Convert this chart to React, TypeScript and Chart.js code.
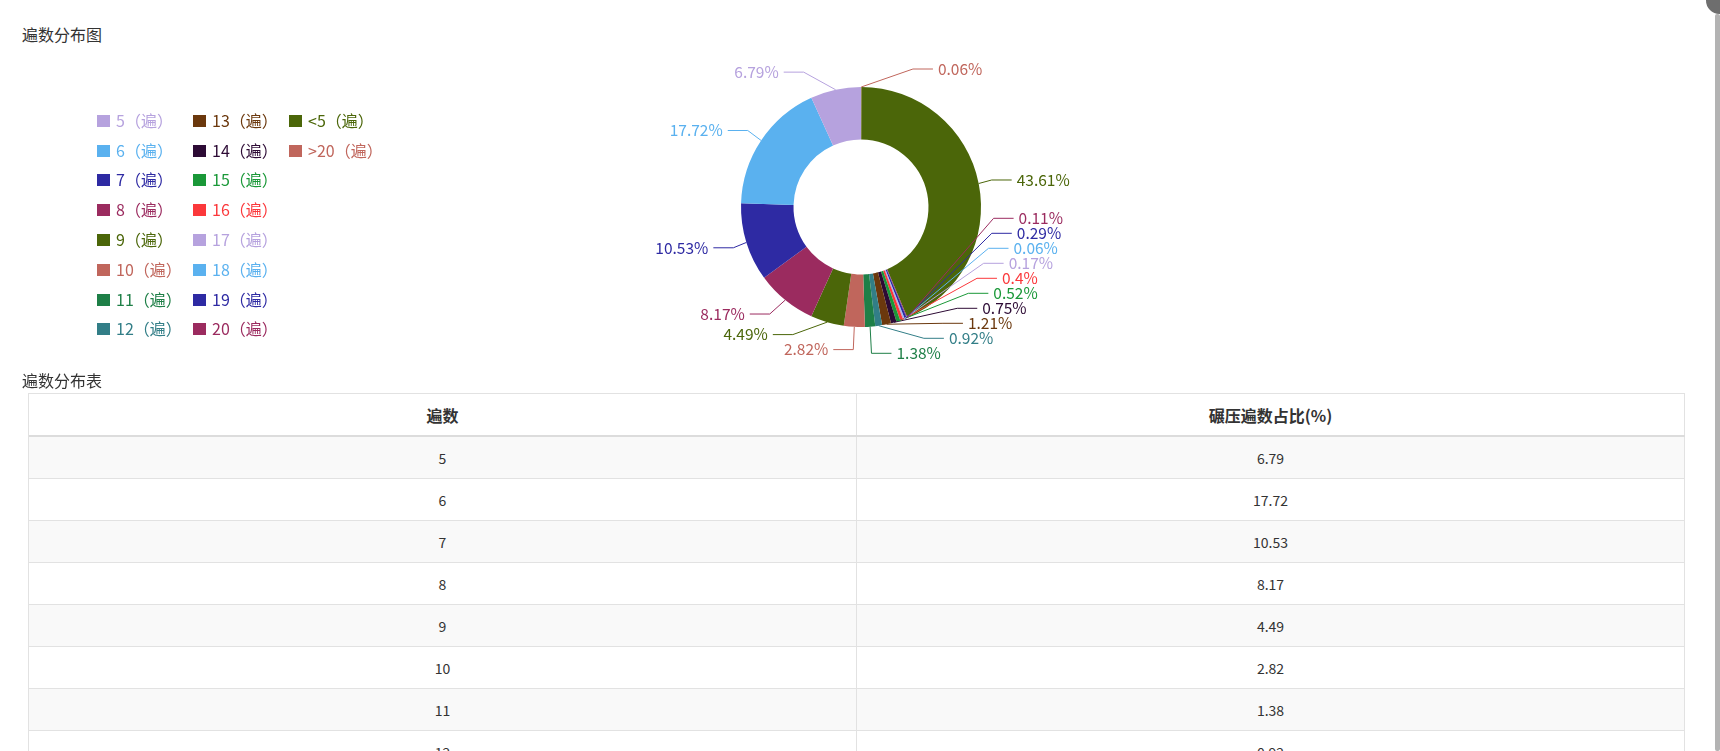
import React, { useEffect, useRef } from 'react';
import { Chart, registerables } from 'chart.js';

Chart.register(...registerables);

const FONT_FAMILY = '"Microsoft YaHei", "Noto Sans CJK SC", "Noto Sans", sans-serif';

// ---------- data ----------
const chartTitle = '遍数分布图';
const tableTitle = '遍数分布表';
const passCategories = ['5', '6', '7', '8', '9', '10', '11', '12', '13', '14', '15', '16', '17', '18', '19', '20', '<5', '>20'];
const passShares = [6.79, 17.72, 10.53, 8.17, 4.49, 2.82, 1.38, 0.92, 1.21, 0.75, 0.52, 0.4, 0.17, 0.06, 0.29, 0.11, 43.61, 0.06];
const palette = ['#b6a2de', '#5ab1ef', '#2e2aa3', '#9b2b5f', '#4b6609', '#c0665c', '#1e7f47', '#327e87', '#6b380d', '#2d0b35', '#1a9838', '#fb383b'];
const legendSuffix = '（遍）';
const tableHeaders = ['遍数', '碾压遍数占比(%)'];

const sliceColors = passCategories.map((_, i) => palette[i % palette.length]);

// ---------- layout constants ----------
const CANVAS_W = 1720;
const CANVAS_H = 372;
const CENTER_X = 861;
const CENTER_Y = 207;
const OUTER_R = 120;
const INNER_R = 67.5;
const LINE_LEN = 18;
const LINE_LEN2 = 20;
const LABEL_DIST = 5;
const LABEL_H = 15;
const LABEL_FONT_SIZE = 15.5;
const VIEW_TOP = 46;
const VIEW_SHIFT_LIMIT = 430;
const VIEW_BOTTOM = 368.3;
const LEGEND_COL_X = [97, 193, 289];
const LEGEND_ROW_Y0 = 120.7;
const LEGEND_ROW_GAP = 29.8;
const LEGEND_ROWS = 8;
const LEGEND_BOX_W = 13;
const LEGEND_BOX_H = 12;
const LEGEND_TEXT_GAP = 6;
const LEGEND_FONT_SIZE = 16;

type LabelLayout = {
  x: number;
  y: number;
  height: number;
  len: number;
  len2: number;
  linePoints: number[][];
  color: string;
  text: string;
};

// ECharts-4 style label overlap avoidance
function adjustSingleSide(list: LabelLayout[], cx: number, cy: number, r: number, dir: number) {
  list.sort((a, b) => a.y - b.y);
  function shiftUp(end: number, delta: number) {
    for (let j = end; j >= 0; j--) {
      if (list[j].y - delta < VIEW_TOP) break;
      list[j].y -= delta;
      if (j > 0 && list[j].y > list[j - 1].y + list[j - 1].height) break;
    }
  }
  function shiftDown(start: number, end: number, delta: number) {
    for (let j = start; j < end; j++) {
      if (list[j].y + delta > VIEW_SHIFT_LIMIT) break;
      list[j].y += delta;
      if (j > start && j + 1 < end && list[j + 1].y > list[j].y + list[j].height) {
        shiftUp(j, delta / 2);
        return;
      }
    }
    shiftUp(end - 1, delta / 2);
  }
  function changeX(items: LabelLayout[], isDown: boolean) {
    let last = isDown ? Number.MAX_VALUE : 0;
    for (const it of items) {
      const dY = Math.abs(it.y - cy);
      const L = r + it.len + it.len2;
      let dX = dY < r + it.len ? Math.sqrt(L * L - dY * dY) : Math.abs(it.x - cx);
      if (isDown && dX >= last) dX = last - 10;
      if (!isDown && dX <= last) dX = last + 10;
      it.x = cx + dX * dir;
      last = dX;
    }
  }
  const n = list.length;
  let lastY = VIEW_TOP;
  for (let i = 0; i < n; i++) {
    const delta = list[i].y - lastY;
    if (delta < 0) shiftDown(i, n, -delta);
    lastY = list[i].y + list[i].height;
  }
  if (VIEW_BOTTOM - lastY < 0) shiftUp(n - 1, lastY - VIEW_BOTTOM);
  const up: LabelLayout[] = [];
  const down: LabelLayout[] = [];
  for (const it of list) (it.y >= cy ? down : up).push(it);
  changeX(up, false);
  changeX(down, true);
}

const pieLabelPlugin = {
  id: 'pieLabels',
  afterDatasetsDraw(chart: any) {
    const meta = chart.getDatasetMeta(0);
    const ctx: CanvasRenderingContext2D = chart.ctx;
    const values = chart.data.datasets[0].data as number[];
    const colors = chart.data.datasets[0].backgroundColor as string[];
    const n = meta.data.length;
    const layouts: LabelLayout[] = [];
    let cx = 0, cy = 0, r = 0;
    for (let j = n - 1; j >= 0; j--) {
      const p = meta.data[j].getProps(['x', 'y', 'startAngle', 'endAngle', 'outerRadius'], true);
      cx = p.x; cy = p.y; r = p.outerRadius;
      const mid = (p.startAngle + p.endAngle) / 2;
      const dx = Math.cos(mid);
      const dy = Math.sin(mid);
      const x1 = cx + r * dx;
      const y1 = cy + r * dy;
      const x2 = x1 + dx * LINE_LEN;
      const y2 = y1 + dy * LINE_LEN;
      const x3 = x2 + (dx < 0 ? -1 : 1) * LINE_LEN2;
      const textX = x3 + (dx < 0 ? -LABEL_DIST : LABEL_DIST);
      layouts.push({
        x: textX, y: y2, height: LABEL_H, len: LINE_LEN, len2: LINE_LEN2,
        linePoints: [[x1, y1], [x2, y2], [x3, y2]],
        color: colors[j],
        text: values[j] + '%',
      });
    }
    const left = layouts.filter((l) => l.x < cx);
    const right = layouts.filter((l) => l.x >= cx);
    adjustSingleSide(right, cx, cy, r, 1);
    adjustSingleSide(left, cx, cy, r, -1);
    ctx.save();
    ctx.font = `${LABEL_FONT_SIZE}px ${FONT_FAMILY}`;
    ctx.textBaseline = 'middle';
    for (const l of layouts) {
      const lp = l.linePoints;
      const dist = lp[1][0] - lp[2][0];
      lp[2][0] = l.x < cx ? l.x + LABEL_DIST : l.x - LABEL_DIST;
      lp[1][0] = lp[2][0] + dist;
      lp[1][1] = lp[2][1] = l.y;
      ctx.strokeStyle = l.color;
      ctx.lineWidth = 1;
      ctx.beginPath();
      ctx.moveTo(lp[0][0], lp[0][1]);
      ctx.lineTo(lp[1][0], lp[1][1]);
      ctx.lineTo(lp[2][0], lp[2][1]);
      ctx.stroke();
      ctx.fillStyle = l.color;
      ctx.textAlign = l.x < cx ? 'right' : 'left';
      ctx.fillText(l.text, l.x, l.y);
    }
    ctx.restore();
  },
};

const legendPlugin = {
  id: 'gridLegend',
  afterDraw(chart: any) {
    const ctx: CanvasRenderingContext2D = chart.ctx;
    ctx.save();
    ctx.font = `${LEGEND_FONT_SIZE}px ${FONT_FAMILY}`;
    ctx.textBaseline = 'middle';
    ctx.textAlign = 'left';
    passCategories.forEach((cat, i) => {
      const col = Math.floor(i / LEGEND_ROWS);
      const row = i % LEGEND_ROWS;
      const x = LEGEND_COL_X[col];
      const y = LEGEND_ROW_Y0 + row * LEGEND_ROW_GAP;
      ctx.fillStyle = sliceColors[i];
      ctx.fillRect(x, Math.round(y - LEGEND_BOX_H / 2), LEGEND_BOX_W, LEGEND_BOX_H);
      ctx.fillText(cat + legendSuffix, x + LEGEND_BOX_W + LEGEND_TEXT_GAP, y);
    });
    ctx.restore();
  },
};

function DonutChart() {
  const ref = useRef<HTMLCanvasElement | null>(null);
  useEffect(() => {
    if (!ref.current) return;
    const order = passCategories.map((_, i) => passCategories.length - 1 - i);
    const chart = new Chart(ref.current, {
      type: 'doughnut',
      data: {
        labels: order.map((i) => passCategories[i]),
        datasets: [
          {
            data: order.map((i) => passShares[i]),
            backgroundColor: order.map((i) => sliceColors[i]),
            borderWidth: 0,
          },
        ],
      },
      options: {
        animation: false,
        responsive: false,
        devicePixelRatio: 1,
        events: [],
        radius: OUTER_R,
        cutout: `${(INNER_R / OUTER_R) * 100}%`,
        layout: {
          padding: {
            left: CENTER_X - OUTER_R,
            right: CANVAS_W - CENTER_X - OUTER_R,
            top: CENTER_Y - OUTER_R,
            bottom: CANVAS_H - CENTER_Y - OUTER_R,
          },
        },
        plugins: { legend: { display: false }, tooltip: { enabled: false } },
      } as any,
      plugins: [pieLabelPlugin, legendPlugin],
    });
    return () => chart.destroy();
  }, []);
  return (
    <canvas
      ref={ref}
      width={CANVAS_W}
      height={CANVAS_H}
      style={{ position: 'absolute', left: 0, top: 0, width: CANVAS_W, height: CANVAS_H }}
    />
  );
}

export default function App() {
  const border = '1px solid #e2e2e2';
  return (
    <div
      style={{
        position: 'fixed', left: 0, top: 0, width: 1720, height: 751, overflow: 'hidden',
        background: '#fff', fontFamily: FONT_FAMILY, color: '#333',
      }}
    >
      <div style={{ position: 'absolute', left: 22, top: 25, fontSize: 16, lineHeight: '18px', color: '#333' }}>{chartTitle}</div>
      <DonutChart />
      <div style={{ position: 'absolute', left: 22, top: 371, fontSize: 16, lineHeight: '18px', color: '#333' }}>{tableTitle}</div>
      <div style={{ position: 'absolute', left: 28, top: 393, width: 1657, borderTop: border, borderLeft: border, boxSizing: 'border-box' }}>
        <div style={{ display: 'flex', height: 43, borderBottom: '2px solid #dcdcdc', boxSizing: 'border-box', background: '#fff' }}>
          {tableHeaders.map((h) => (
            <div
              key={h}
              style={{
                width: 828, boxSizing: 'border-box', borderRight: border, display: 'flex',
                alignItems: 'center', justifyContent: 'center', fontSize: 16, fontWeight: 'bold', color: '#333',
              }}
            >
              {h}
            </div>
          ))}
        </div>
        {passCategories.map((c, i) => (
          <div
            key={c}
            style={{
              display: 'flex', height: 42, borderBottom: border, boxSizing: 'border-box',
              background: i % 2 === 0 ? '#f9f9f9' : '#fff',
            }}
          >
            {[c, String(passShares[i])].map((t, k) => (
              <div
                key={k}
                style={{
                  width: 828, boxSizing: 'border-box', borderRight: border, display: 'flex',
                  alignItems: 'center', justifyContent: 'center', fontSize: 14, color: '#333',
                }}
              >
                {t}
              </div>
            ))}
          </div>
        ))}
      </div>
      <div style={{ position: 'absolute', left: 1715, top: 14, width: 5, height: 737, background: '#b3b3b3', borderRadius: 2 }} />
      <div style={{ position: 'absolute', left: 1706, top: -13, width: 27, height: 27, borderRadius: '50%', background: '#6e6e6e' }} />
    </div>
  );
}
